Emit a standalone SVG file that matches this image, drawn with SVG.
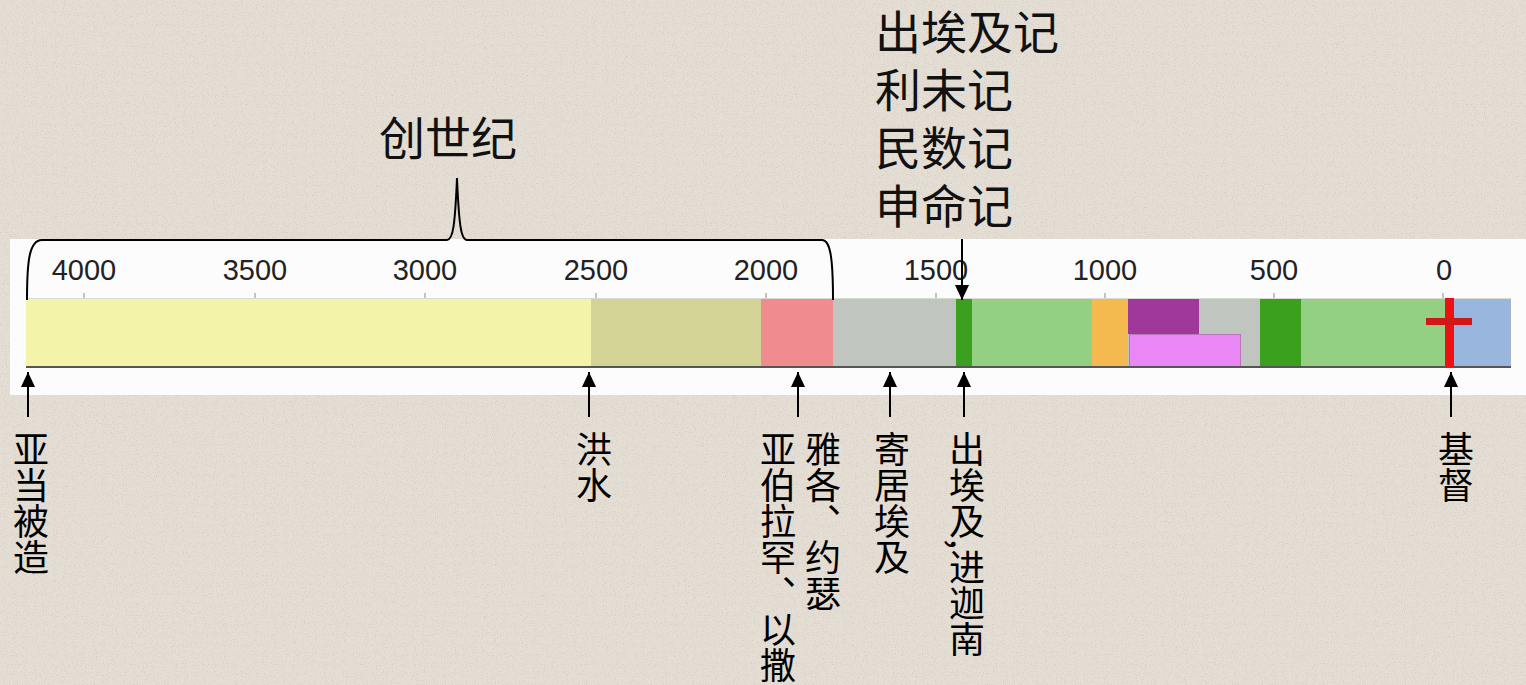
<svg xmlns="http://www.w3.org/2000/svg" width="1526" height="685" viewBox="0 0 1526 685">
  <defs>
    <style>
      .num { font-family: "Liberation Sans", Arial, sans-serif; font-size: 29px; fill: #222; text-anchor: middle; }
      .big { font-family: "Liberation Serif", "Noto Sans CJK SC", serif; font-size: 46px; fill: #111; }
      .vlab { font-family: "Noto Sans CJK SC", sans-serif; font-size: 36px; fill: #000; writing-mode: vertical-rl; }
      .tick { stroke: #8a8a8a; stroke-width: 1; }
      .arrow { stroke: #000; stroke-width: 2; fill: none; marker-end: url(#ah); }
      .brace { stroke: #000; stroke-width: 2; fill: none; }
    </style>
    <marker id="ah" viewBox="0 0 15 14" refX="15" refY="7" markerWidth="15" markerHeight="14" orient="auto" markerUnits="userSpaceOnUse">
      <path d="M0,0 L15,7 L0,14 z" fill="#000"/>
    </marker>
    <filter id="grain" x="0" y="0" width="100%" height="100%">
      <feTurbulence type="fractalNoise" baseFrequency="0.9" numOctaves="2" seed="7" result="n"/>
      <feColorMatrix type="matrix" values="0 0 0 0 0.45  0 0 0 0 0.42  0 0 0 0 0.38  0 0 0 -2.2 1.05"/>
    </filter>
  </defs>

  <g id="background">
    <rect x="0" y="0" width="1526" height="685" fill="#e5ded4"/>
    <rect x="0" y="0" width="1526" height="685" filter="url(#grain)" opacity="0.5"/>
  </g>

  <g id="timeline-panel">
    <rect x="10" y="239" width="1516" height="156" fill="#fdfcfd"/>
  </g>

  <g id="timeline-bar">
    <rect x="26" y="298" width="565" height="69" fill="#f3f4aa"/>
    <rect x="591" y="298" width="170" height="69" fill="#d3d396"/>
    <rect x="761" y="298" width="72" height="69" fill="#f08c90"/>
    <rect x="833" y="298" width="123" height="69" fill="#c0c6bf"/>
    <rect x="956" y="298" width="16" height="69" fill="#3aa01e"/>
    <rect x="972" y="298" width="120" height="69" fill="#93d084"/>
    <rect x="1092" y="298" width="36" height="69" fill="#f4b94f"/>
    <rect x="1128" y="298" width="132" height="69" fill="#c0c6bf"/>
    <rect x="1128" y="298" width="71" height="36" fill="#a0379b"/>
    <rect x="1129.5" y="334.5" width="111" height="32" fill="#e987f6" stroke="#b877b8" stroke-width="1"/>
    <rect x="1260" y="298" width="41" height="69" fill="#3aa01e"/>
    <rect x="1301" y="298" width="145" height="69" fill="#93d084"/>
    <rect x="1454" y="298" width="56" height="69" fill="#98b6de"/>
    <line x1="1510.5" y1="298" x2="1510.5" y2="367" stroke="#a8b4c4" stroke-width="1"/>
    <line x1="26" y1="298.5" x2="1511" y2="298.5" stroke="#d8dcd0" stroke-width="1"/>
    <line x1="26" y1="367" x2="1511" y2="367" stroke="#555" stroke-width="2"/>
  </g>

  <g id="christ-cross">
    <rect x="1445" y="298" width="9" height="69" fill="#ee1111"/>
    <rect x="1426" y="318" width="46" height="7" fill="#d01818"/>
  </g>

  <g id="axis-ticks">
    <line class="tick" x1="84" y1="293" x2="84" y2="298"/>
    <line class="tick" x1="255" y1="293" x2="255" y2="298"/>
    <line class="tick" x1="425" y1="293" x2="425" y2="298"/>
    <line class="tick" x1="596" y1="293" x2="596" y2="298"/>
    <line class="tick" x1="766" y1="293" x2="766" y2="298"/>
    <line class="tick" x1="936" y1="293" x2="936" y2="298"/>
    <line class="tick" x1="1105" y1="293" x2="1105" y2="298"/>
    <line class="tick" x1="1274" y1="293" x2="1274" y2="298"/>
    <line class="tick" x1="1443" y1="293" x2="1443" y2="298"/>
  </g>

  <g id="axis-labels">
    <text class="num" x="84" y="280">4000</text>
    <text class="num" x="255" y="280">3500</text>
    <text class="num" x="425" y="280">3000</text>
    <text class="num" x="596" y="280">2500</text>
    <text class="num" x="766" y="280">2000</text>
    <text class="num" x="936" y="280">1500</text>
    <text class="num" x="1105" y="280">1000</text>
    <text class="num" x="1274" y="280">500</text>
    <text class="num" x="1444" y="280">0</text>
  </g>

  <g id="genesis-label">
    <text class="big" x="379" y="155">创世纪</text>
  </g>

  <g id="pentateuch-label">
    <text class="big" x="875" y="49">出埃及记</text>
    <text class="big" x="875" y="107">利未记</text>
    <text class="big" x="875" y="165">民数记</text>
    <text class="big" x="875" y="223">申命记</text>
  </g>

  <g id="connectors">
    <path class="brace" d="M27,300 C27,262 29,240 42,240 L447,240 C453,240 455,225 457,178 C459,225 461,240 467,240 L822,240 C830,240 833,256 833,300"/>
    <line class="arrow" x1="962" y1="239" x2="962" y2="300"/>
    <line class="arrow" x1="28" y1="417" x2="28" y2="372"/>
    <line class="arrow" x1="589" y1="417" x2="589" y2="372"/>
    <line class="arrow" x1="798" y1="417" x2="798" y2="372"/>
    <line class="arrow" x1="890" y1="417" x2="890" y2="372"/>
    <line class="arrow" x1="964" y1="417" x2="964" y2="372"/>
    <line class="arrow" x1="1451" y1="417" x2="1451" y2="372"/>
  </g>

  <g id="label-adam">
    <text class="vlab" x="31" y="431">亚当被造</text>
  </g>
  <g id="label-flood">
    <text class="vlab" x="594" y="431">洪水</text>
  </g>
  <g id="label-abraham">
    <text class="vlab" x="778" y="431">亚伯拉罕、以撒</text>
  </g>
  <g id="label-jacob">
    <text class="vlab" x="823" y="431">雅各、约瑟</text>
  </g>
  <g id="label-egypt">
    <text class="vlab" x="892" y="431">寄居埃及</text>
  </g>
  <g id="label-exodus">
    <text class="vlab" x="967" y="431">出埃及,进迦南</text>
  </g>
  <g id="label-christ">
    <text class="vlab" x="1456" y="431">基督</text>
  </g>
</svg>
